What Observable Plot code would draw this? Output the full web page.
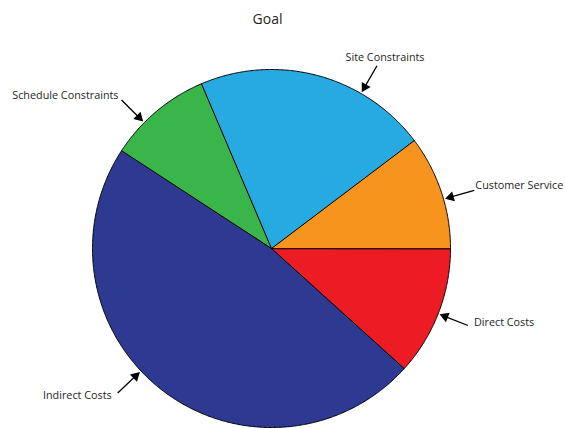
<!DOCTYPE html>
<html><head><meta charset="utf-8">
<script src="https://cdn.jsdelivr.net/npm/d3@7"></script>
<script src="https://cdn.jsdelivr.net/npm/@observablehq/plot@0.6"></script>
<style>body{margin:0;background:#fff}</style>
</head><body><div id="chart"></div>
<script>
// ---- data ----
const title = "Goal";
const categories = ["Direct Costs", "Indirect Costs", "Schedule Constraints", "Site Constraints", "Customer Service"];
const values = [11.7, 47.5, 9.4, 21.1, 10.3];
const colors = ["#ED1C24", "#2E3991", "#39B54A", "#27AAE1", "#F7941D"];

// ---- layout ----
const W = 565, H = 428, CX = 271, CY = 248, R = 179;
const FONT = "Open Sans";
const labelLayout = [
  {angle: 21.4,  anchor: "start",  dx: 6,  dy: -3},
  {angle: 136.8, anchor: "end",    dx: -6, dy: 3},
  {angle: 224.7, anchor: "end",    dx: -3, dy: -5},
  {angle: 300,   anchor: "middle", dx: 8,  dy: -8},
  {angle: 344,   anchor: "start",  dx: 1,  dy: -5}
];
const tailR = 211 / R, shaftEndR = 186 / R, tipR = 180.5 / R, headR = 3.8;
const headHalf = Math.sqrt(Math.PI * headR * headR / (3 * Math.sqrt(3)));
const headCenterR = tipR + 2 * headHalf / R;

const rad = a => a * Math.PI / 180;
const px = (a, r) => Math.cos(rad(a)) * r;
const py = (a, r) => -Math.sin(rad(a)) * r;

// slice geometry from values
const total = d3.sum(values);
let acc = 0;
const slices = categories.map((name, i) => {
  const a0 = acc / total * 360; acc += values[i];
  const a1 = acc / total * 360;
  return {name, a0, a1};
});
const pts = slices.flatMap(s => {
  const n = Math.max(2, Math.ceil((s.a1 - s.a0) / 0.4));
  const arr = [{name: s.name, x: 0, y: 0}];
  for (let k = 0; k <= n; k++) {
    const a = s.a0 + (s.a1 - s.a0) * k / n;
    arr.push({name: s.name, x: px(a, 1), y: py(a, 1)});
  }
  return arr;
});
const labels = labelLayout.map((l, i) => ({...l, name: categories[i]}));

const chart = Plot.plot({
  width: W, height: H,
  margin: 0,
  x: {domain: [-CX / R, (W - CX) / R], axis: null},
  y: {domain: [-(H - CY) / R, CY / R], axis: null},
  color: {domain: categories, range: colors},
  style: {fontFamily: FONT, background: "#fff", color: "#000"},
  marks: [
    Plot.line(pts, {x: "x", y: "y", z: "name", fill: "name", stroke: "#000", strokeWidth: 1, curve: "linear-closed", strokeLinejoin: "miter"}),
    Plot.link(labels, {x1: d => px(d.angle, tailR), y1: d => py(d.angle, tailR), x2: d => px(d.angle, shaftEndR), y2: d => py(d.angle, shaftEndR), stroke: "#000", strokeWidth: 1.3}),
    Plot.dot(labels, {x: d => px(d.angle, headCenterR), y: d => py(d.angle, headCenterR), symbol: "triangle", r: headR, fill: "#000", stroke: "none", rotate: d => d.angle - 90}),
    ...labels.map(l => Plot.text([l], {x: d => px(d.angle, tailR), y: d => py(d.angle, tailR), text: "name", textAnchor: l.anchor, dx: l.dx, dy: l.dy, fontSize: 10.8, fill: "#231F20"})),
    Plot.text([title], {x: () => 0, frameAnchor: "top", lineAnchor: "middle", dy: 19, dx: -4, text: d => d, fontSize: 14, fill: "#231F20"})
  ]
});
document.getElementById("chart").append(chart);
</script>
</body></html>
